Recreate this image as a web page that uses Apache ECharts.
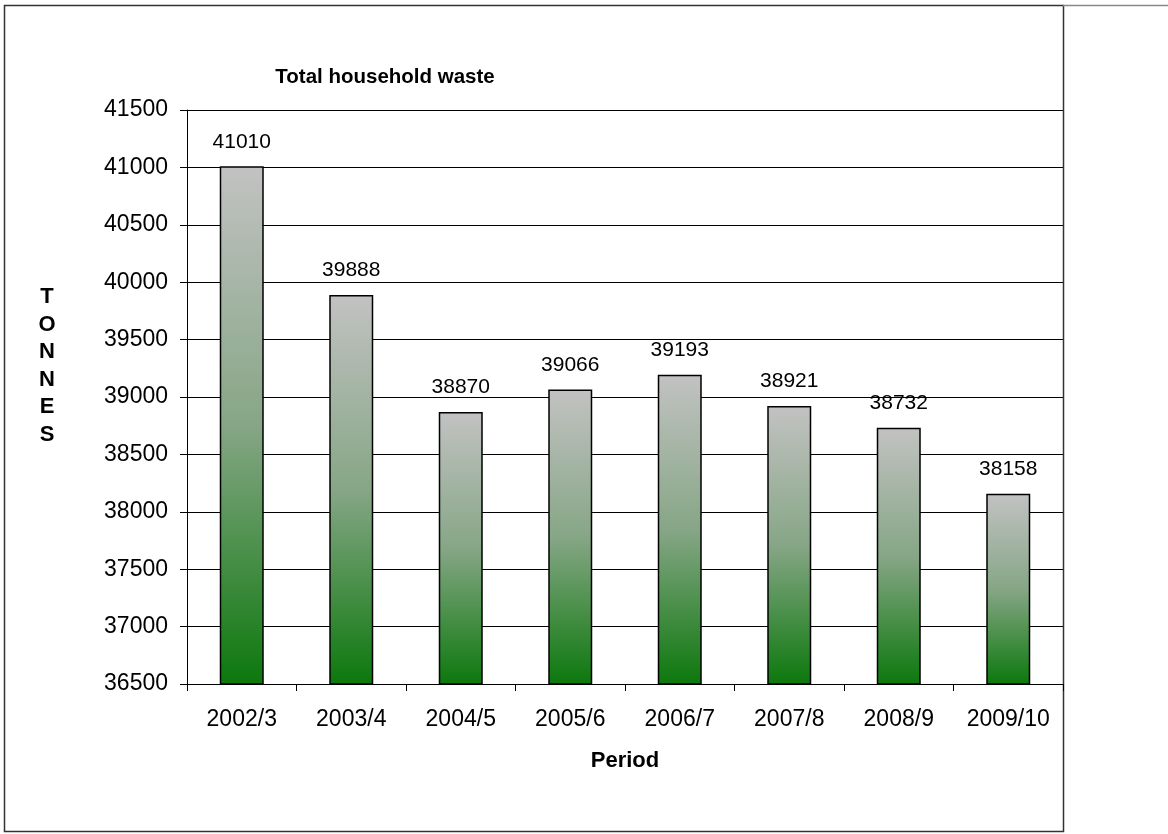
<!DOCTYPE html>
<html>
<head>
<meta charset="utf-8">
<script src="https://cdn.jsdelivr.net/npm/echarts@6/dist/echarts.min.js"></script>
<style>
  html, body { margin: 0; padding: 0; background: #fff; }
  #chart { width: 1168px; height: 834px; }
</style>
</head>
<body>
<div id="chart"></div>
<script>
// data
const periods = ['2002/3', '2003/4', '2004/5', '2005/6', '2006/7', '2007/8', '2008/9', '2009/10']
const tonnes = [41010, 39888, 38870, 39066, 39193, 38921, 38732, 38158]

const chart = echarts.init(document.getElementById('chart'))
const font = '"Liberation Sans", Arial, sans-serif'

chart.setOption({
  animation: false,
  textStyle: { fontFamily: font },
  title: {
    text: 'Total household waste',
    left: 380,
    top: 62,
    textAlign: 'center',
    textStyle: { fontSize: 20.5, fontWeight: 'bold', color: '#000', fontFamily: font }
  },
  graphic: [
    {
      type: 'rect',
      shape: { x: 4.5, y: 5.5, width: 1059, height: 826 },
      style: { fill: 'none', stroke: '#333', lineWidth: 1.5 },
      z: 0
    },
    {
      type: 'line',
      shape: { x1: 1063, y1: 5.5, x2: 1168, y2: 5.5 },
      style: { stroke: '#888', lineWidth: 1.5 }
    },
    {
      // stacked y axis title
      type: 'text',
      x: 47,
      y: 366,
      style: {
        text: 'T\nO\nN\nN\nE\nS',
        font: 'bold 22px ' + font,
        lineHeight: 27.5,
        fill: '#000',
        align: 'center',
        verticalAlign: 'middle'
      }
    }
  ],
  grid: {
    left: 187,
    top: 110,
    right: 105,
    bottom: 150
  },
  xAxis: {
    type: 'category',
    data: periods,
    name: 'Period',
    nameLocation: 'middle',
    nameGap: 66,
    nameTextStyle: { fontSize: 22, fontWeight: 'bold', color: '#000', fontFamily: font },
    axisLine: { lineStyle: { color: '#000', width: 1 } },
    axisTick: { show: true, length: 7, alignWithLabel: false, lineStyle: { color: '#000' } },
    axisLabel: { fontSize: 23, color: '#000', margin: 24, fontFamily: font }
  },
  yAxis: {
    type: 'value',
    min: 36500,
    max: 41500,
    interval: 500,
    axisLine: { show: true, lineStyle: { color: '#000', width: 1 } },
    axisTick: { show: true, length: 7, lineStyle: { color: '#000' } },
    axisLabel: {
      fontSize: 23, color: '#000', margin: 19, fontFamily: font,
      formatter: function (v) { return String(v) }
    },
    splitLine: { show: true, lineStyle: { color: '#000', width: 1 } }
  },
  series: [
    {
      type: 'bar',
      data: tonnes,
      barWidth: 44,
      itemStyle: {
        borderColor: '#000',
        borderWidth: 1.5,
        color: new echarts.graphic.LinearGradient(0, 0, 0, 1, [
          { offset: 0, color: '#c2c2c2' },
          { offset: 0.5, color: '#86a686' },
          { offset: 1, color: '#0c780c' }
        ])
      },
      label: {
        show: true,
        position: 'top',
        distance: 14,
        fontSize: 21,
        color: '#000',
        fontFamily: font
      }
    }
  ]
})
</script>
</body>
</html>
